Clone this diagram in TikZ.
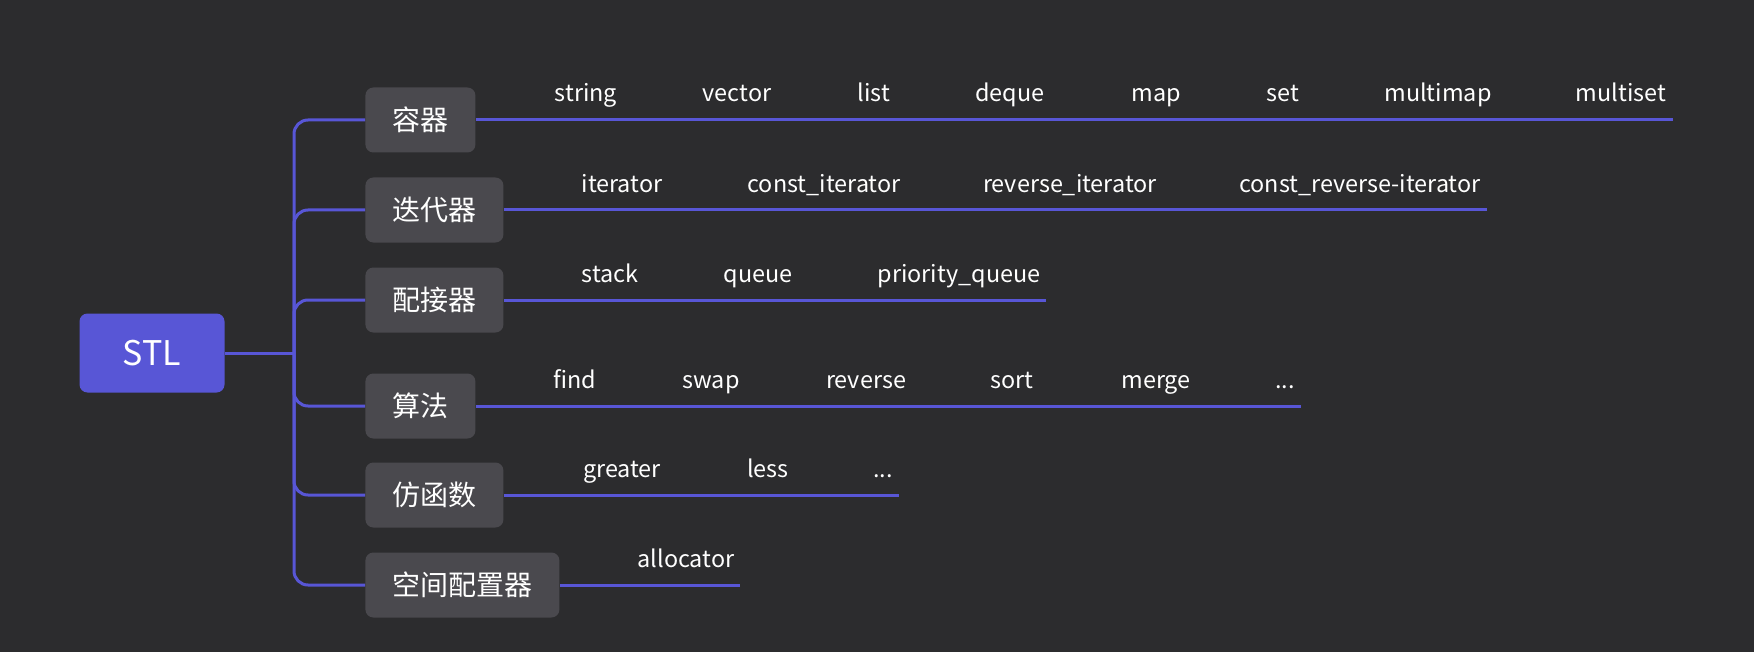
\documentclass[tikz,border=0pt]{standalone}
\usepackage{fontspec}
\setmainfont{Noto Sans CJK SC}
\definecolor{bgcol}{HTML}{2C2C2E}
\definecolor{boxcol}{HTML}{4A494E}
\definecolor{linecol}{HTML}{5856D6}

\begin{document}
\begin{tikzpicture}[
  x=0.5pt, y=-0.5pt,
  rootnode/.style={fill=linecol,rounded corners=4pt,minimum width=72.5pt,minimum height=39.5pt,text=white,font=\fontsize{17}{20}\selectfont},
  branchnode/.style={fill=boxcol,rounded corners=4pt,inner xsep=13.5pt,minimum height=32.5pt,text=white,font=\fontsize{14}{16}\selectfont,anchor=west},
  leafnode/.style={text=white,font=\fontsize{11.7}{14}\selectfont,inner sep=0pt,anchor=base},
  link/.style={draw=linecol,line width=1.5pt}
  ]
  \fill[bgcol] (0,0) rectangle (1754,652);

  \node[rootnode] (stl) at (152,353) {STL};
  \coordinate (trunk) at (294,353);

  \node[branchnode] (rongqi) at (365,120) {容器};
  \node[branchnode] (diedai) at (365,210) {迭代器};
  \node[branchnode] (peijie) at (365,300) {配接器};
  \node[branchnode] (suanfa) at (365,406) {算法};
  \node[branchnode] (fanghan) at (365,495) {仿函数};
  \node[branchnode] (kongjian) at (365,585) {空间配置器};

  \draw[link] (stl.east) -- (trunk);
  \draw[link,rounded corners=7pt] (trunk) |- (rongqi.west);
  \draw[link,rounded corners=7pt] (trunk) |- (diedai.west);
  \draw[link,rounded corners=7pt] (trunk) |- (peijie.west);
  \draw[link,rounded corners=7pt] (trunk) |- (suanfa.west);
  \draw[link,rounded corners=7pt] (trunk) |- (fanghan.west);
  \draw[link,rounded corners=7pt] (trunk) |- (kongjian.west);

  % containers
  \coordinate (rongqiend) at (1673,120);
  \draw[link] (rongqi.east) -- (rongqiend);
  \node[leafnode] (string) at (586,102) {string};
  \node[leafnode] (vector) at (737,102) {vector};
  \node[leafnode] (list) at (874,102) {list};
  \node[leafnode] (deque) at (1010,102) {deque};
  \node[leafnode] (map) at (1156,102) {map};
  \node[leafnode] (set) at (1283,102) {set};
  \node[leafnode] (multimap) at (1438,102) {multimap};
  \node[leafnode] (multiset) at (1621,102) {multiset};

  % iterators
  \coordinate (diedaiend) at (1487,210);
  \draw[link] (diedai.east) -- (diedaiend);
  \node[leafnode] (iter) at (622,192) {iterator};
  \node[leafnode] (citer) at (824,192) {const\_iterator};
  \node[leafnode] (riter) at (1070,192) {reverse\_iterator};
  \node[leafnode] (criter) at (1360,192) {const\_reverse-iterator};

  % adapters
  \coordinate (peijieend) at (1046,300);
  \draw[link] (peijie.east) -- (peijieend);
  \node[leafnode] (stack) at (610,282) {stack};
  \node[leafnode] (queue) at (758,282) {queue};
  \node[leafnode] (pqueue) at (959,282) {priority\_queue};

  % algorithms
  \coordinate (suanfaend) at (1301,406);
  \draw[link] (suanfa.east) -- (suanfaend);
  \node[leafnode] (find) at (575,388) {find};
  \node[leafnode] (swap) at (711,388) {swap};
  \node[leafnode] (rev) at (866,388) {reverse};
  \node[leafnode] (sort) at (1012,388) {sort};
  \node[leafnode] (merge) at (1156,388) {merge};
  \node[leafnode] (algmore) at (1285,388) {...};

  % functors
  \coordinate (fanghanend) at (899,495);
  \draw[link] (fanghan.east) -- (fanghanend);
  \node[leafnode] (greater) at (622,477) {greater};
  \node[leafnode] (less) at (768,477) {less};
  \node[leafnode] (funmore) at (883,477) {...};

  % allocator
  \coordinate (kongjianend) at (740,585);
  \draw[link] (kongjian.east) -- (kongjianend);
  \node[leafnode] (alloc) at (686,567) {allocator};
\end{tikzpicture}
\end{document}
